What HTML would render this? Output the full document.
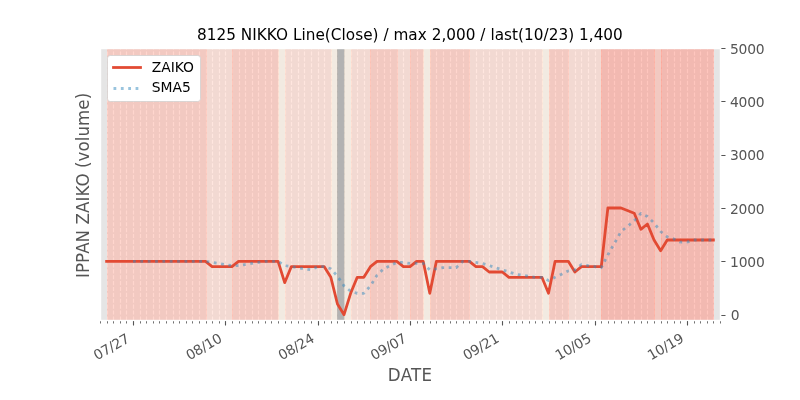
<!DOCTYPE html>
<html lang="en"><head><meta charset="utf-8"><title>8125 NIKKO IPPAN ZAIKO</title>
<style>html,body{margin:0;padding:0;background:#fff}body{width:800px;height:400px;overflow:hidden}svg{display:block}text{font-family:"DejaVu Sans","Liberation Sans",sans-serif}.t{fill:#555}.s{font-size:13.889px}.l{font-size:16.667px}</style></head><body>
<svg width="800" height="400" viewBox="0 0 800 400">
<rect width="800" height="400" fill="#fff"/>
<defs><clipPath id="ax"><rect x="100" y="48" width="620" height="272"/></clipPath></defs>
<rect x="100" y="48" width="620" height="272" fill="#e5e5e5"/>
<g clip-path="url(#ax)"><path d="M100.5 320.5V48M107.5 320.5V48M113.5 320.5V48M120.5 320.5V48M126.5 320.5V48M133.5 320.5V48M140.5 320.5V48M146.5 320.5V48M153.5 320.5V48M159.5 320.5V48M166.5 320.5V48M173.5 320.5V48M179.5 320.5V48M186.5 320.5V48M192.5 320.5V48M199.5 320.5V48M206.5 320.5V48M212.5 320.5V48M219.5 320.5V48M225.5 320.5V48M232.5 320.5V48M239.5 320.5V48M245.5 320.5V48M252.5 320.5V48M258.5 320.5V48M265.5 320.5V48M271.5 320.5V48M278.5 320.5V48M285.5 320.5V48M291.5 320.5V48M298.5 320.5V48M304.5 320.5V48M311.5 320.5V48M318.5 320.5V48M324.5 320.5V48M331.5 320.5V48M337.5 320.5V48M344.5 320.5V48M351.5 320.5V48M357.5 320.5V48M364.5 320.5V48M370.5 320.5V48M377.5 320.5V48M384.5 320.5V48M390.5 320.5V48M397.5 320.5V48M403.5 320.5V48M410.5 320.5V48M417.5 320.5V48M423.5 320.5V48M430.5 320.5V48M436.5 320.5V48M443.5 320.5V48M450.5 320.5V48M456.5 320.5V48M463.5 320.5V48M469.5 320.5V48M476.5 320.5V48M483.5 320.5V48M489.5 320.5V48M496.5 320.5V48M502.5 320.5V48M509.5 320.5V48M516.5 320.5V48M522.5 320.5V48M529.5 320.5V48M535.5 320.5V48M542.5 320.5V48M549.5 320.5V48M555.5 320.5V48M562.5 320.5V48M568.5 320.5V48M575.5 320.5V48M581.5 320.5V48M588.5 320.5V48M595.5 320.5V48M601.5 320.5V48M608.5 320.5V48M614.5 320.5V48M621.5 320.5V48M628.5 320.5V48M634.5 320.5V48M641.5 320.5V48M647.5 320.5V48M654.5 320.5V48M661.5 320.5V48M667.5 320.5V48M674.5 320.5V48M680.5 320.5V48M687.5 320.5V48M694.5 320.5V48M700.5 320.5V48M707.5 320.5V48M713.5 320.5V48M720.5 320.5V48" fill="none" stroke="#fff" stroke-width="1.111" stroke-dasharray="4.111 1.778"/>
<rect x="107.5" y="30" width="99" height="310" fill="#ffad9d" fill-opacity=".5" stroke="#ffad9d" stroke-opacity=".5" stroke-width=".69"/>
<rect x="206.5" y="30" width="26" height="310" fill="#ffcdbf" fill-opacity=".5" stroke="#ffcdbf" stroke-opacity=".5" stroke-width=".69"/>
<rect x="232.5" y="30" width="46" height="310" fill="#ffad9d" fill-opacity=".5" stroke="#ffad9d" stroke-opacity=".5" stroke-width=".69"/>
<rect x="278.5" y="30" width="7" height="310" fill="#ffefdd" fill-opacity=".5" stroke="#ffefdd" stroke-opacity=".5" stroke-width=".69"/>
<rect x="285.5" y="30" width="46" height="310" fill="#ffcdbf" fill-opacity=".5" stroke="#ffcdbf" stroke-opacity=".5" stroke-width=".69"/>
<rect x="331.5" y="30" width="6" height="310" fill="#ffefdd" fill-opacity=".5" stroke="#ffefdd" stroke-opacity=".5" stroke-width=".69"/>
<rect x="337.5" y="30" width="7" height="310" fill="#808080" fill-opacity=".5" stroke="#808080" stroke-opacity=".5" stroke-width=".69"/>
<rect x="344.5" y="30" width="7" height="310" fill="#ffefdd" fill-opacity=".5" stroke="#ffefdd" stroke-opacity=".5" stroke-width=".69"/>
<rect x="351.5" y="30" width="19" height="310" fill="#ffcdbf" fill-opacity=".5" stroke="#ffcdbf" stroke-opacity=".5" stroke-width=".69"/>
<rect x="370.5" y="30" width="27" height="310" fill="#ffad9d" fill-opacity=".5" stroke="#ffad9d" stroke-opacity=".5" stroke-width=".69"/>
<rect x="397.5" y="30" width="13" height="310" fill="#ffcdbf" fill-opacity=".5" stroke="#ffcdbf" stroke-opacity=".5" stroke-width=".69"/>
<rect x="410.5" y="30" width="13" height="310" fill="#ffad9d" fill-opacity=".5" stroke="#ffad9d" stroke-opacity=".5" stroke-width=".69"/>
<rect x="423.5" y="30" width="7" height="310" fill="#ffefdd" fill-opacity=".5" stroke="#ffefdd" stroke-opacity=".5" stroke-width=".69"/>
<rect x="430.5" y="30" width="39" height="310" fill="#ffad9d" fill-opacity=".5" stroke="#ffad9d" stroke-opacity=".5" stroke-width=".69"/>
<rect x="469.5" y="30" width="73" height="310" fill="#ffcdbf" fill-opacity=".5" stroke="#ffcdbf" stroke-opacity=".5" stroke-width=".69"/>
<rect x="542.5" y="30" width="7" height="310" fill="#ffefdd" fill-opacity=".5" stroke="#ffefdd" stroke-opacity=".5" stroke-width=".69"/>
<rect x="549.5" y="30" width="19" height="310" fill="#ffad9d" fill-opacity=".5" stroke="#ffad9d" stroke-opacity=".5" stroke-width=".69"/>
<rect x="568.5" y="30" width="33" height="310" fill="#ffcdbf" fill-opacity=".5" stroke="#ffcdbf" stroke-opacity=".5" stroke-width=".69"/>
<rect x="601.5" y="30" width="53" height="310" fill="#ff8d7d" fill-opacity=".5" stroke="#ff8d7d" stroke-opacity=".5" stroke-width=".69"/>
<rect x="654.5" y="30" width="7" height="310" fill="#ffad9d" fill-opacity=".5" stroke="#ffad9d" stroke-opacity=".5" stroke-width=".69"/>
<rect x="661.5" y="30" width="52" height="310" fill="#ff8d7d" fill-opacity=".5" stroke="#ff8d7d" stroke-opacity=".5" stroke-width=".69"/>
<polyline points="106.6,261.33 113.19,261.33 119.79,261.33 126.38,261.33 132.98,261.33 139.57,261.33 146.17,261.33 152.77,261.33 159.36,261.33 165.96,261.33 172.55,261.33 179.15,261.33 185.74,261.33 192.34,261.33 198.94,261.33 205.53,261.33 212.13,266.67 218.72,266.67 225.32,266.67 231.91,266.67 238.51,261.33 245.11,261.33 251.7,261.33 258.3,261.33 264.89,261.33 271.49,261.33 278.09,261.33 284.68,282.67 291.28,266.67 297.87,266.67 304.47,266.67 311.06,266.67 317.66,266.67 324.26,266.67 330.85,277.33 337.45,304 344.04,314.67 350.64,293.33 357.23,277.33 363.83,277.33 370.43,266.67 377.02,261.33 383.62,261.33 390.21,261.33 396.81,261.33 403.4,266.67 410,266.67 416.6,261.33 423.19,261.33 429.79,293.33 436.38,261.33 442.98,261.33 449.57,261.33 456.17,261.33 462.77,261.33 469.36,261.33 475.96,266.67 482.55,266.67 489.15,272 495.74,272 502.34,272 508.94,277.33 515.53,277.33 522.13,277.33 528.72,277.33 535.32,277.33 541.91,277.33 548.51,293.33 555.11,261.33 561.7,261.33 568.3,261.33 574.89,272 581.49,266.67 588.09,266.67 594.68,266.67 601.28,266.67 607.87,208 614.47,208 621.06,208 634.26,213.33 640.85,229.33 647.45,224 654.04,240 660.64,250.67 667.23,240 673.83,240 680.43,240 687.02,240 693.62,240 700.21,240 706.81,240 713.4,240" fill="none" stroke="#e24a33" stroke-width="2.78" stroke-linejoin="round" stroke-linecap="square"/>
<polyline points="132.98,261.33 139.57,261.33 146.17,261.33 152.77,261.33 159.36,261.33 165.96,261.33 172.55,261.33 179.15,261.33 185.74,261.33 192.34,261.33 198.94,261.33 205.53,261.33 212.13,262.4 218.72,263.47 225.32,264.53 231.91,265.6 238.51,265.6 245.11,264.53 251.7,263.47 258.3,262.4 264.89,261.33 271.49,261.33 278.09,261.33 284.68,265.6 291.28,266.67 297.87,267.73 304.47,268.8 311.06,269.87 317.66,266.67 324.26,266.67 330.85,268.8 337.45,276.27 344.04,285.87 350.64,291.2 357.23,293.33 363.83,293.33 370.43,285.87 377.02,275.2 383.62,268.8 390.21,265.6 396.81,262.4 403.4,262.4 410,263.47 416.6,263.47 423.19,263.47 429.79,269.87 436.38,268.8 442.98,267.73 449.57,267.73 456.17,267.73 462.77,261.33 469.36,261.33 475.96,262.4 482.55,263.47 489.15,265.6 495.74,267.73 502.34,269.87 508.94,272 515.53,274.13 522.13,275.2 528.72,276.27 535.32,277.33 541.91,277.33 548.51,280.53 555.11,277.33 561.7,274.13 568.3,270.93 574.89,269.87 581.49,264.53 588.09,265.6 594.68,266.67 601.28,267.73 607.87,254.93 614.47,243.2 621.06,231.47 634.26,220.8 640.85,213.33 647.45,216.53 654.04,222.93 660.64,231.47 667.23,236.8 673.83,238.93 680.43,242.13 687.02,242.13 693.62,240 700.21,240 706.81,240 713.4,240" fill="none" stroke="#348abd" stroke-opacity=".5" stroke-width="2.78" stroke-linejoin="round" stroke-dasharray="2.778 4.583"/>
</g>
<rect x="100.5" y="48.5" width="620" height="272" fill="none" stroke="#fff" stroke-width="1.39"/>
<path d="M100.5 321.25V323.5M107.5 321.25V323.5M113.5 321.25V323.5M120.5 321.25V323.5M126.5 321.25V323.5M133.5 321.25V323.5M140.5 321.25V323.5M146.5 321.25V323.5M153.5 321.25V323.5M159.5 321.25V323.5M166.5 321.25V323.5M173.5 321.25V323.5M179.5 321.25V323.5M186.5 321.25V323.5M192.5 321.25V323.5M199.5 321.25V323.5M206.5 321.25V323.5M212.5 321.25V323.5M219.5 321.25V323.5M225.5 321.25V323.5M232.5 321.25V323.5M239.5 321.25V323.5M245.5 321.25V323.5M252.5 321.25V323.5M258.5 321.25V323.5M265.5 321.25V323.5M271.5 321.25V323.5M278.5 321.25V323.5M285.5 321.25V323.5M291.5 321.25V323.5M298.5 321.25V323.5M304.5 321.25V323.5M311.5 321.25V323.5M318.5 321.25V323.5M324.5 321.25V323.5M331.5 321.25V323.5M337.5 321.25V323.5M344.5 321.25V323.5M351.5 321.25V323.5M357.5 321.25V323.5M364.5 321.25V323.5M370.5 321.25V323.5M377.5 321.25V323.5M384.5 321.25V323.5M390.5 321.25V323.5M397.5 321.25V323.5M403.5 321.25V323.5M410.5 321.25V323.5M417.5 321.25V323.5M423.5 321.25V323.5M430.5 321.25V323.5M436.5 321.25V323.5M443.5 321.25V323.5M450.5 321.25V323.5M456.5 321.25V323.5M463.5 321.25V323.5M469.5 321.25V323.5M476.5 321.25V323.5M483.5 321.25V323.5M489.5 321.25V323.5M496.5 321.25V323.5M502.5 321.25V323.5M509.5 321.25V323.5M516.5 321.25V323.5M522.5 321.25V323.5M529.5 321.25V323.5M535.5 321.25V323.5M542.5 321.25V323.5M549.5 321.25V323.5M555.5 321.25V323.5M562.5 321.25V323.5M568.5 321.25V323.5M575.5 321.25V323.5M581.5 321.25V323.5M588.5 321.25V323.5M595.5 321.25V323.5M601.5 321.25V323.5M608.5 321.25V323.5M614.5 321.25V323.5M621.5 321.25V323.5M628.5 321.25V323.5M634.5 321.25V323.5M641.5 321.25V323.5M647.5 321.25V323.5M654.5 321.25V323.5M661.5 321.25V323.5M667.5 321.25V323.5M674.5 321.25V323.5M680.5 321.25V323.5M687.5 321.25V323.5M694.5 321.25V323.5M700.5 321.25V323.5M707.5 321.25V323.5M713.5 321.25V323.5M720.5 321.25V323.5" stroke="#555" stroke-width=".83" fill="none"/>
<path d="M133.5 321.25V325.5M225.5 321.25V325.5M318.5 321.25V325.5M410.5 321.25V325.5M502.5 321.25V325.5M595.5 321.25V325.5M687.5 321.25V325.5M721.35 315.5H725.5M721.35 261.5H725.5M721.35 208.5H725.5M721.35 155.5H725.5M721.35 101.5H725.5M721.35 48.5H725.5" stroke="#555" stroke-width="1.11" fill="none"/>
<text class="t s" textLength="38.73" transform="translate(97.07 360.62) rotate(-30)">07/27</text>
<text class="t s" textLength="38.98" transform="translate(189.41 360.62) rotate(-30)">08/10</text>
<text class="t s" textLength="38.85" transform="translate(281.75 360.62) rotate(-30)">08/24</text>
<text class="t s" textLength="38.85" transform="translate(374.09 360.62) rotate(-30)">09/07</text>
<text class="t s" textLength="38.98" transform="translate(466.43 360.62) rotate(-30)">09/21</text>
<text class="t s" textLength="38.85" transform="translate(558.77 360.62) rotate(-30)">10/05</text>
<text class="t s" textLength="39.1" transform="translate(651.11 360.62) rotate(-30)">10/19</text>
<text class="t s" textLength="8.75" x="730.8" y="320.19">0</text>
<text class="t s" textLength="34.73" x="730" y="266.86">1000</text>
<text class="t s" textLength="34.6" x="730" y="213.53">2000</text>
<text class="t s" textLength="34.6" x="730" y="160.19">3000</text>
<text class="t s" textLength="34.6" x="730" y="106.86">4000</text>
<text class="t s" textLength="34.6" x="730" y="53.53">5000</text>
<text class="t l" textLength="44.2" transform="translate(409.9 381) scale(1 1.05)" text-anchor="middle">DATE</text>
<text class="t l" textLength="185.2" text-anchor="middle" transform="translate(89 185.4) rotate(-90) scale(1 1.06)">IPPAN ZAIKO (volume)</text>
<text x="409.9" y="39.67" text-anchor="middle" textLength="425.85" font-size="15.278" fill="#000">8125 NIKKO Line(Close) / max 2,000 / last(10/23) 1,400</text>
<rect x="107.5" y="55.5" width="93" height="46" rx="2.78" fill="#fff" stroke="#ccc" stroke-width=".69"/>
<path d="M113.5 67.5H140.5" stroke="#e24a33" stroke-width="2.78" stroke-linecap="square" fill="none"/>
<path d="M113.5 88.5H141.3" stroke="#348abd" stroke-opacity=".5" stroke-width="2.78" stroke-dasharray="2.778 4.583" fill="none"/>
<text class="s" textLength="42.13" x="151.85" y="71.55" fill="#000">ZAIKO</text>
<text class="s" textLength="39" x="151.73" y="91.57" fill="#000">SMA5</text>
</svg></body></html>
